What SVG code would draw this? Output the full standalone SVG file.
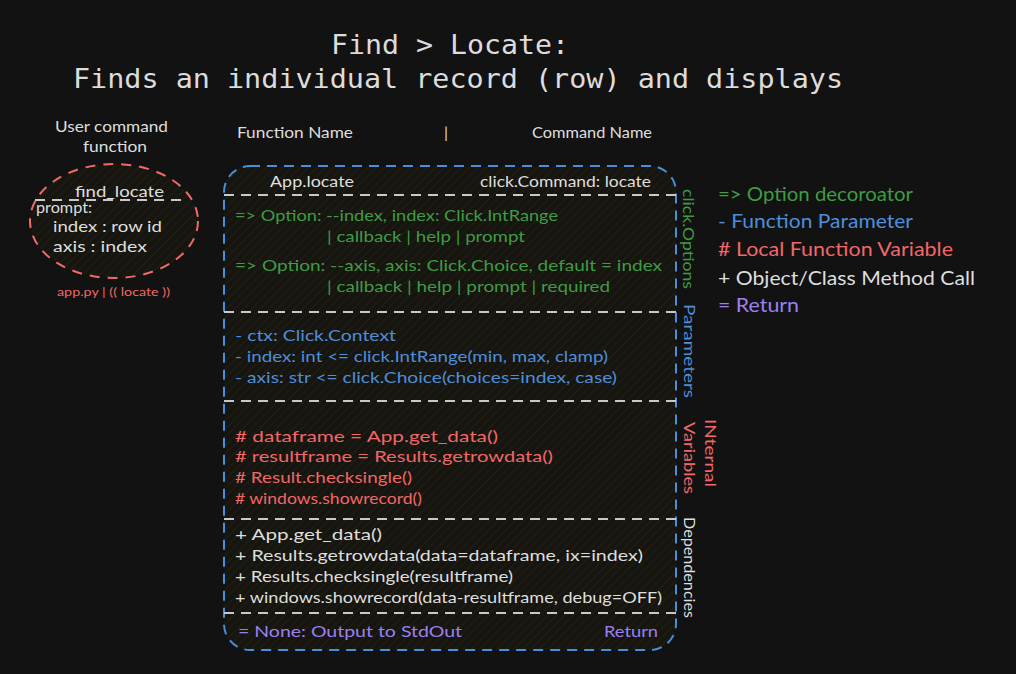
<svg xmlns="http://www.w3.org/2000/svg" width="1016" height="674" viewBox="0 0 1016 674">
<defs>
<pattern id="hatch" width="6" height="6" patternUnits="userSpaceOnUse" patternTransform="rotate(45)">
<rect width="6" height="6" fill="#16150f"/>
<line x1="0" y1="0" x2="0" y2="6" stroke="#23211a" stroke-width="1.4"/>
</pattern>
<style>
.t {font-family: "Lato","Noto Sans",sans-serif; font-size:16px;}
.lg {font-family: "Lato","Noto Sans",sans-serif; font-size:19px;}
.ti {font-family: "DejaVu Sans Mono","Liberation Mono",monospace; font-size:27px; fill:#dcdcdc;}
.g {fill:#3f9c44;}
.b {fill:#4d8fdb;}
.r {fill:#f26767;}
.p {fill:#9c80f2;}
.w {fill:#dedede;}
.sep {stroke:#c9c9c9; stroke-width:2; stroke-dasharray:10 7; fill:none;}
</style>
</defs>
<rect width="1016" height="674" fill="#121212"/>

<g id="title">
<text class="ti" x="331" y="54" textLength="238" lengthAdjust="spacingAndGlyphs">Find &gt; Locate:</text>
<text class="ti" x="73" y="88" textLength="770" lengthAdjust="spacingAndGlyphs">Finds an individual record (row) and displays</text>
</g>

<g id="user-command">
<text class="t w" x="55" y="132" textLength="113" lengthAdjust="spacingAndGlyphs">User command</text>
<text class="t w" x="83" y="152" textLength="64" lengthAdjust="spacingAndGlyphs">function</text>
<ellipse cx="114" cy="221" rx="84" ry="57" fill="url(#hatch)" stroke="#f06a6a" stroke-width="2" stroke-dasharray="10 8"/>
<line class="sep" x1="35" y1="200" x2="188" y2="200"/>
<text class="t w" x="75" y="197" textLength="89" lengthAdjust="spacingAndGlyphs">find_locate</text>
<text class="t w" x="36" y="213" textLength="56" lengthAdjust="spacingAndGlyphs">prompt:</text>
<text class="t w" x="53" y="232" textLength="109" lengthAdjust="spacingAndGlyphs">index : row id</text>
<text class="t w" x="53" y="252" textLength="94" lengthAdjust="spacingAndGlyphs">axis : index</text>
<text class="r" x="57" y="296" font-family="Lato, sans-serif" font-size="11" textLength="113" lengthAdjust="spacingAndGlyphs">app.py | (( locate ))</text>
</g>

<g id="header">
<text class="t w" x="237" y="138" textLength="116" lengthAdjust="spacingAndGlyphs">Function Name</text>
<text class="t w" x="444" y="138">|</text>
<text class="t w" x="532" y="138" textLength="120" lengthAdjust="spacingAndGlyphs">Command Name</text>
</g>

<g id="locate-box">
<rect x="224" y="166" width="452" height="484" rx="26" ry="26" fill="url(#hatch)" stroke="#4a8fdc" stroke-width="2" stroke-dasharray="10 7"/>
<text class="t w" x="270" y="187" textLength="84" lengthAdjust="spacingAndGlyphs">App.locate</text>
<text class="t w" x="480" y="187" textLength="171" lengthAdjust="spacingAndGlyphs">click.Command: locate</text>
</g>

<g id="connectors">
<line class="sep" x1="224" y1="195" x2="678" y2="195"/>
<line class="sep" x1="224" y1="312" x2="678" y2="312"/>
<line class="sep" x1="224" y1="401" x2="678" y2="401"/>
<line class="sep" x1="224" y1="519" x2="678" y2="519"/>
<line class="sep" x1="224" y1="613" x2="678" y2="613"/>
</g>

<g id="options">
<text class="t g" x="235" y="221" textLength="323" lengthAdjust="spacingAndGlyphs">=&gt; Option: --index, index: Click.IntRange</text>
<text class="t g" x="327" y="242" textLength="198" lengthAdjust="spacingAndGlyphs">| callback | help | prompt</text>
<text class="t g" x="235" y="271" textLength="427" lengthAdjust="spacingAndGlyphs">=&gt; Option: --axis, axis: Click.Choice, default = index</text>
<text class="t g" x="327" y="292" textLength="283" lengthAdjust="spacingAndGlyphs">| callback | help | prompt | required</text>
<text class="t g" transform="translate(683,189) rotate(90)" textLength="100" lengthAdjust="spacingAndGlyphs">click.Options</text>
</g>

<g id="parameters">
<text class="t b" x="235" y="341" textLength="161" lengthAdjust="spacingAndGlyphs">- ctx: Click.Context</text>
<text class="t b" x="235" y="362" textLength="373" lengthAdjust="spacingAndGlyphs">- index: int &lt;= click.IntRange(min, max, clamp)</text>
<text class="t b" x="235" y="383" textLength="382" lengthAdjust="spacingAndGlyphs">- axis: str &lt;= click.Choice(choices=index, case)</text>
<text class="t b" transform="translate(684,304) rotate(90)" textLength="94" lengthAdjust="spacingAndGlyphs">Parameters</text>
</g>

<g id="internal-variables">
<text class="t r" x="235" y="442" textLength="263" lengthAdjust="spacingAndGlyphs"># dataframe = App.get_data()</text>
<text class="t r" x="235" y="462" textLength="318" lengthAdjust="spacingAndGlyphs"># resultframe = Results.getrowdata()</text>
<text class="t r" x="235" y="483" textLength="177" lengthAdjust="spacingAndGlyphs"># Result.checksingle()</text>
<text class="t r" x="235" y="504" textLength="187" lengthAdjust="spacingAndGlyphs"># windows.showrecord()</text>
<text class="t r" transform="translate(705,419) rotate(90)" textLength="68" lengthAdjust="spacingAndGlyphs">INternal</text>
<text class="t r" transform="translate(684,422) rotate(90)" textLength="72" lengthAdjust="spacingAndGlyphs">Variables</text>
</g>

<g id="dependencies">
<text class="t w" x="235" y="540" textLength="147" lengthAdjust="spacingAndGlyphs">+ App.get_data()</text>
<text class="t w" x="235" y="561" textLength="408" lengthAdjust="spacingAndGlyphs">+ Results.getrowdata(data=dataframe, ix=index)</text>
<text class="t w" x="235" y="582" textLength="278" lengthAdjust="spacingAndGlyphs">+ Results.checksingle(resultframe)</text>
<text class="t w" x="235" y="603" textLength="427" lengthAdjust="spacingAndGlyphs">+ windows.showrecord(data-resultframe, debug=OFF)</text>
<text class="t w" transform="translate(684,517) rotate(90)" textLength="101" lengthAdjust="spacingAndGlyphs">Dependencies</text>
</g>

<g id="return">
<text class="t p" x="238" y="637" textLength="224" lengthAdjust="spacingAndGlyphs">= None: Output to StdOut</text>
<text class="t p" x="604" y="637" textLength="54" lengthAdjust="spacingAndGlyphs">Return</text>
</g>

<g id="legend">
<text class="lg g" x="718" y="201" textLength="195" lengthAdjust="spacingAndGlyphs">=&gt; Option decoroator</text>
<text class="lg b" x="718" y="228" textLength="195" lengthAdjust="spacingAndGlyphs">- Function Parameter</text>
<text class="lg r" x="718" y="256" textLength="235" lengthAdjust="spacingAndGlyphs"># Local Function Variable</text>
<text class="lg w" x="718" y="285" textLength="257" lengthAdjust="spacingAndGlyphs">+ Object/Class Method Call</text>
<text class="lg p" x="718" y="312" textLength="81" lengthAdjust="spacingAndGlyphs">= Return</text>
</g>
</svg>
